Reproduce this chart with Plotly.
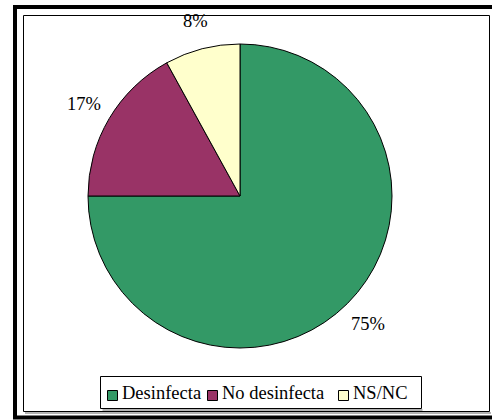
import math
import plotly.graph_objects as go

labels = ["Desinfecta", "No desinfecta", "NS/NC"]
values = [75, 17, 8]
colors = ["#339966", "#993366", "#FFFFCC"]

W, H = 492, 420
cx, cy, R = 240, 196, 152
FONT = "Liberation Serif, Times New Roman, serif"
FS = 18.5

def px(x):
    return x / W

def py(y):
    return 1 - y / H

fig = go.Figure()
fig.add_trace(go.Pie(
    labels=labels, values=values, sort=False, direction="clockwise", rotation=0,
    marker=dict(colors=colors, line=dict(color="black", width=1)),
    textinfo="none", hoverinfo="label+percent", showlegend=False,
    domain=dict(x=[px(cx - R), px(cx + R)], y=[py(cy + R), py(cy - R)]),
))

# percentage labels placed outside each slice at its mid angle
total = sum(values)
annotations = []
shapes = [
    # outer thick frame
    dict(type="rect", xref="paper", yref="paper", x0=px(15), y0=py(417.5), x1=px(520), y1=py(7),
         line=dict(color="black", width=4)),
    # inner frame shadow (bottom)
    dict(type="line", xref="paper", yref="paper", x0=px(25), y0=py(413), x1=px(491), y1=py(413),
         line=dict(color="#9a9a9a", width=1.5)),
    # inner frame
    dict(type="rect", xref="paper", yref="paper", x0=px(23.5), y0=py(411.5), x1=px(489.5), y1=py(15.5),
         line=dict(color="black", width=1), fillcolor="white", layer="below"),
]

cum = 0
for v in values:
    mid = (cum + v / 2) / total * 2 * math.pi
    cum += v
    d = 1.19 * R
    lx = cx + d * math.sin(mid)
    ly = cy - d * math.cos(mid)
    annotations.append(dict(
        x=px(lx), y=py(ly), xref="paper", yref="paper",
        text=f"{round(v / total * 100)}%", showarrow=False,
        font=dict(family=FONT, size=FS, color="black"),
        xanchor="center", yanchor="middle",
    ))

# legend box drawn as shapes + text
LX0, LX1, LY0, LY1 = 100.5, 421.5, 376.5, 408.5
shapes.append(dict(type="line", xref="paper", yref="paper", x0=px(LX0 + 2), y0=py(LY1 + 1.5),
                   x1=px(LX1 + 1), y1=py(LY1 + 1.5), line=dict(color="#9a9a9a", width=1.5)))
shapes.append(dict(type="rect", xref="paper", yref="paper", x0=px(LX0), y0=py(LY1), x1=px(LX1), y1=py(LY0),
                   line=dict(color="black", width=1), fillcolor="white"))
sq_x = [107, 207, 338]
for name, col, sx in zip(labels, colors, sq_x):
    shapes.append(dict(type="rect", xref="paper", yref="paper", x0=px(sx + 0.5), y0=py(400.5),
                       x1=px(sx + 10.5), y1=py(390.5), fillcolor=col, line=dict(color="black", width=1)))
    annotations.append(dict(
        x=px(sx + 13), y=py(393), xref="paper", yref="paper", text=name, showarrow=False,
        font=dict(family=FONT, size=FS, color="black"), xanchor="left", yanchor="middle",
    ))

fig.update_layout(
    width=W, height=H, margin=dict(l=0, r=0, t=0, b=0),
    paper_bgcolor="white", plot_bgcolor="white",
    showlegend=False,
    annotations=annotations, shapes=shapes,
)

fig.write_html("out.html")
